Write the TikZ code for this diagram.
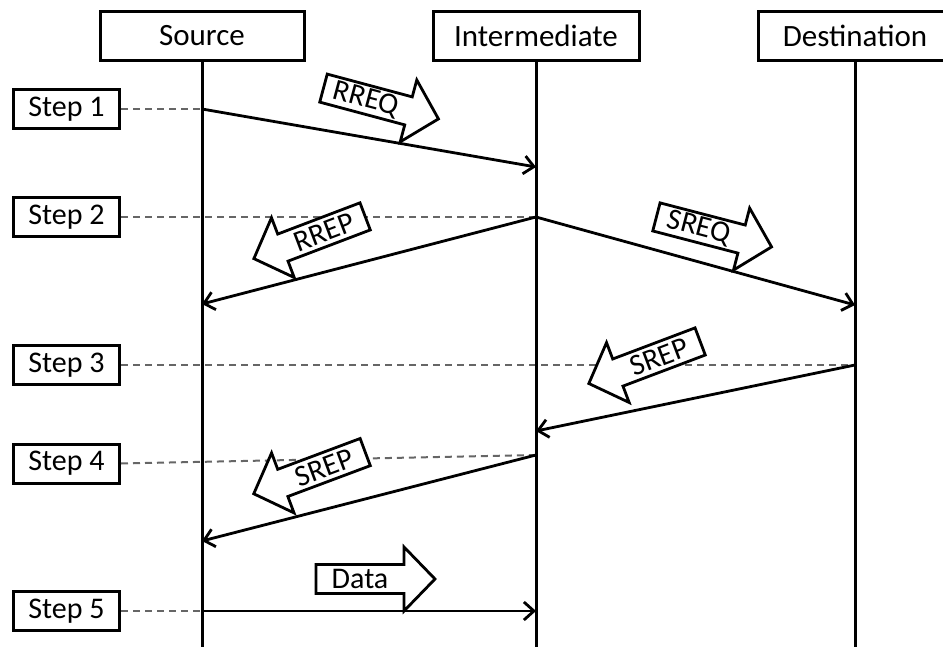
\documentclass[tikz,border=0pt]{standalone}
\usepackage{fontspec}
\setmainfont{Carlito}
\usetikzlibrary{arrows.meta}
\newcommand\blkarrow[6]{%
  \begin{scope}[shift={(#2,#3)}, rotate=#4, xscale=#5]
    \draw[blk] (-44,-14.5) -- (44,-14.5) -- (44,-32) -- (75,0) -- (44,32) -- (44,14.5) -- (-44,14.5) -- cycle;
  \end{scope}
  \node[lbl, rotate=#4] (#1) at (#2,#3) {#6};
}
\begin{document}
\begin{tikzpicture}[x=1pt,y=-1pt,
  hdr/.style={draw, line width=3pt, minimum height=49pt, inner sep=0pt, font=\fontsize{31}{36}\selectfont},
  stepbox/.style={draw, line width=3pt, minimum width=106pt, minimum height=39pt, inner sep=0pt, font=\fontsize{30}{36}\selectfont},
  life/.style={line width=3pt},
  guide/.style={line width=2pt, draw=black!60, dash pattern=on 7pt off 5pt},
  msg/.style={line width=2.8pt, -{Straight Barb[length=10pt,width=18pt]}, line join=round},
  blk/.style={draw, fill=white, line width=2.8pt, line join=miter},
  lbl/.style={font=\fontsize{30}{36}\selectfont, inner sep=0pt}
]
\useasboundingbox (0,0) rectangle (943,647);
\clip (0,0) rectangle (943,647);

% header boxes
\node[hdr, minimum width=204pt] (src) at (202,36) {Source};
\node[hdr, minimum width=206pt] (int) at (536,36) {Intermediate};
\node[hdr, minimum width=193pt] (dst) at (855,36) {Destination};

% step boxes
\node[stepbox] (st1) at (66.5,109) {Step 1};
\node[stepbox] (st2) at (66.5,217) {Step 2};
\node[stepbox] (st3) at (66.5,365) {Step 3};
\node[stepbox] (st4) at (66.5,463.5) {Step 4};
\node[stepbox] (st5) at (66.5,611) {Step 5};

% bottom ends of lifelines
\coordinate (bot) at (0,650);

% message end points
\coordinate (a1e) at (536,167);
\coordinate (a2e) at (202,304);
\coordinate (a3e) at (855,305);
\coordinate (a4e) at (536,431);
\coordinate (a5s) at (536,455);
\coordinate (a5e) at (202,541);

% dashed guides
\draw[guide] (st1.east) -- (src |- st1);
\draw[guide] (st2.east) -- (int |- st2);
\draw[guide] (st3.east) -- (dst |- st3);
\draw[guide] (st4.east) -- (a5s);
\draw[guide] (st5.east) -- (src |- st5);

% lifelines
\draw[life] (src.south) -- (src |- bot);
\draw[life] (int.south) -- (int |- bot);
\draw[life] (dst.south) -- (dst |- bot);

% messages
\draw[msg] (src |- st1) -- (a1e);
\draw[msg] (int |- st2) -- (a2e);
\draw[msg] (int |- st2) -- (a3e);
\draw[msg] (dst |- st3) -- (a4e);
\draw[msg] (a5s) -- (a5e);
\draw[msg] (src |- st5) -- (int |- st5);

% block arrow labels
\blkarrow{rreq}{366}{99.5}{-15}{1}{RREQ}
\blkarrow{rrep}{324}{232}{20.8}{-1}{RREP}
\blkarrow{sreq}{699}{228}{-14.6}{1}{SREQ}
\blkarrow{srepa}{659}{357}{20.7}{-1}{SREP}
\blkarrow{srepb}{324}{467.5}{20.5}{-1}{SREP}
\blkarrow{data}{360}{579}{0}{1}{Data}
\end{tikzpicture}
\end{document}
